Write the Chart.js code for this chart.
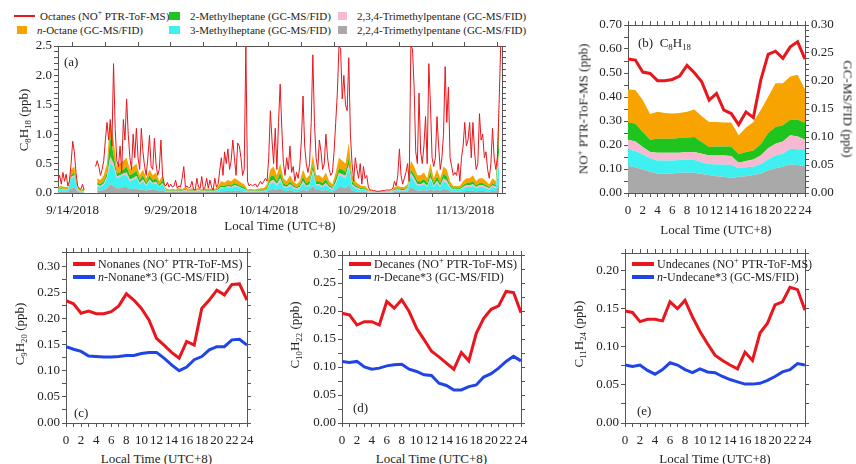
<!DOCTYPE html>
<html>
<head>
<meta charset="utf-8">
<script src="https://cdn.jsdelivr.net/npm/chart.js@4/dist/chart.umd.min.js"></script>
<style>
  body { margin: 0; width: 856px; height: 464px; position: relative; overflow: hidden; background: #fff;
         font-family: "Liberation Serif", "DejaVu Serif", serif; color: #222; }
  canvas { position: absolute; }
  .lbl { position: absolute; white-space: nowrap; font-size: 13px; line-height: 1; transform: translate(-50%, -50%); }
  .lbl.left { transform: translate(0, -50%); }
  .lbl.rotL { transform: translate(-50%, -50%) rotate(-90deg); }
  .lbl.rotR { transform: translate(-50%, -50%) rotate(90deg); }
  sub, sup { font-size: 0.68em; line-height: 0; }
  .sw { position: absolute; }
</style>
</head>
<body>
<script>
// ---------- panel (a): time series, 9/11/2018 18:00 onwards ----------
// x axis counts days from 2018-09-01 00:00
const dateTickDays = [13, 28, 43, 58, 73]
const dateTickLabels = ["9/14/2018", "9/29/2018", "10/14/2018", "10/29/2018", "11/13/2018"]
const tsStartDay = 10.75
const ptrStepDays = 0.25   // one reading every 6 h
const gcStepDays = 0.5     // one reading every 12 h

// Octanes, NO+ PTR-ToF-MS (ppb)
const octanesPTR = [
  0.22,0.3,0.15,0.35,0.2,0.32,0.12,0.2,0.5,0.88,
  0.7,0.35,0.12,0.08,0.06,0.15,0.05,null,null,null,
  null,null,null,0.45,0.55,0.45,0.3,0.4,0.55,0.9,
  1.2,0.9,1.25,0.8,2.2,1.1,0.55,0.45,0.8,0.35,
  1.25,0.9,1.6,1.0,0.6,0.4,1.0,0.6,1.1,0.6,
  0.4,1.1,0.7,0.45,0.3,0.6,0.98,0.45,0.4,0.93,
  0.5,0.3,0.4,0.9,0.3,0.15,0.12,0.18,0.1,0.15,
  0.1,0.12,0.22,0.08,0.12,0.1,0.25,0.45,0.1,0.12,
  0.08,0.1,0.2,0.06,0.05,0.25,0.1,0.08,0.28,0.06,
  0.1,0.25,0.08,0.22,0.1,0.05,0.25,0.1,0.15,0.38,
  0.6,0.3,0.7,0.5,0.75,0.4,0.55,0.9,0.6,0.3,
  0.85,0.8,0.6,0.3,0.4,2.5,0.2,0.12,0.15,0.12,
  0.14,0.15,0.1,0.15,0.2,0.15,0.2,0.25,0.2,0.6,
  1.4,0.9,0.5,1.1,0.4,1.2,1.85,1.1,0.5,0.3,
  0.6,0.4,0.8,0.35,0.45,0.2,0.35,0.25,0.45,0.9,
  1.65,0.8,0.5,0.35,0.5,1.2,2.35,1.2,0.6,0.4,
  0.9,0.7,0.4,0.5,1.0,0.6,0.4,0.3,0.35,0.7,
  1.2,1.7,2.5,2.45,1.6,2.0,1.5,1.4,2.3,1.0,
  0.5,0.2,0.6,0.4,0.25,0.5,0.15,0.45,0.25,0.3,
  0.1,0.05,0.05,0.04,0.04,0.03,0.03,0.03,0.04,0.04,
  0.04,0.05,0.05,0.05,0.06,0.08,0.2,0.12,0.3,0.75,
  0.3,0.15,0.25,0.35,0.5,0.2,2.5,2.45,1.8,0.7,
  0.5,1.7,0.7,0.5,0.8,1.3,0.5,2.2,1.5,0.6,
  0.45,0.6,1.3,0.8,0.4,0.6,1.0,2.15,1.2,1.8,
  0.6,0.45,0.3,0.35,0.3,0.5,0.2,0.6,0.8,1.2,
  0.8,0.9,1.2,0.6,1.2,0.7,0.4,0.5,1.35,0.9,
  1.0,0.6,0.7,0.4,0.25,0.5,1.1,0.6,0.4,0.6,
  1.5,2.5
]

// GC-MS/FID layers, read as the top edge of each stacked band (ppb)
const tsOctaneTop = [
  0.1,0.12,0.1,0.1,0.4,0.45,0.1,0.05,0.08,null,
  null,null,0.25,0.22,0.3,0.5,1.25,0.9,0.45,0.5,
  0.55,0.6,0.4,0.45,0.5,0.3,0.4,0.25,0.4,0.3,
  0.35,0.2,0.3,0.08,0.06,0.07,0.06,0.08,0.07,0.1,
  0.06,0.08,0.06,0.09,0.06,0.08,0.07,0.08,0.07,0.12,
  0.2,0.18,0.22,0.2,0.25,0.22,0.18,0.15,0.06,0.07,
  0.06,0.07,0.08,0.08,0.15,0.4,0.45,0.3,0.5,0.25,
  0.2,0.3,0.2,0.15,0.2,0.4,0.25,0.3,0.65,0.3,
  0.3,0.25,0.35,0.2,0.15,0.35,0.6,0.55,0.5,0.85,
  0.3,0.2,0.15,0.12,0.12,0.06,0.04,0.03,0.03,0.03,
  0.03,0.04,0.04,0.1,0.12,0.1,0.1,0.15,0.55,0.45,
  0.3,0.3,0.35,0.25,0.5,0.25,0.4,0.25,0.45,0.4,
  0.2,0.12,0.12,0.12,0.2,0.25,0.25,0.3,0.2,0.25,
  0.25,0.2,0.15,0.25,0.2,1.5
]
const ts2MHTop = [
  0.07,0.08,0.07,0.07,0.3,0.35,0.07,0.03,0.05,null,
  null,null,0.18,0.15,0.2,0.35,0.95,0.65,0.33,0.35,
  0.4,0.45,0.3,0.33,0.38,0.22,0.3,0.18,0.3,0.22,
  0.25,0.14,0.22,0.05,0.04,0.05,0.04,0.05,0.05,0.07,
  0.04,0.05,0.04,0.06,0.04,0.05,0.05,0.05,0.05,0.08,
  0.13,0.12,0.15,0.13,0.17,0.15,0.12,0.1,0.04,0.05,
  0.04,0.05,0.05,0.05,0.1,0.28,0.3,0.2,0.35,0.17,
  0.13,0.2,0.13,0.1,0.13,0.28,0.17,0.2,0.48,0.2,
  0.2,0.17,0.24,0.13,0.1,0.25,0.42,0.4,0.36,0.6,
  0.2,0.13,0.1,0.08,0.08,0.04,0.03,0.02,0.02,0.02,
  0.02,0.03,0.03,0.07,0.08,0.07,0.07,0.1,0.4,0.32,
  0.2,0.2,0.24,0.17,0.36,0.17,0.28,0.17,0.33,0.28,
  0.13,0.08,0.08,0.08,0.13,0.17,0.17,0.2,0.13,0.17,
  0.17,0.13,0.1,0.17,0.13,1.0
]
const ts234Top = [
  0.06,0.07,0.06,0.06,0.27,0.3,0.06,0.025,0.04,null,
  null,null,0.14,0.12,0.16,0.28,0.62,0.5,0.28,0.3,
  0.33,0.35,0.23,0.25,0.29,0.17,0.23,0.14,0.23,0.17,
  0.19,0.11,0.17,0.04,0.035,0.04,0.035,0.04,0.04,0.05,
  0.035,0.04,0.035,0.05,0.035,0.04,0.04,0.04,0.04,0.06,
  0.1,0.09,0.12,0.1,0.13,0.12,0.09,0.07,0.035,0.04,
  0.035,0.04,0.04,0.04,0.07,0.2,0.22,0.15,0.25,0.12,
  0.1,0.15,0.1,0.08,0.1,0.2,0.12,0.15,0.39,0.15,
  0.15,0.12,0.17,0.1,0.08,0.18,0.34,0.32,0.29,0.48,
  0.15,0.1,0.08,0.06,0.06,0.03,0.025,0.015,0.015,0.015,
  0.015,0.025,0.025,0.05,0.06,0.05,0.05,0.08,0.34,0.25,
  0.15,0.15,0.18,0.12,0.27,0.12,0.21,0.12,0.25,0.21,
  0.1,0.06,0.06,0.06,0.1,0.13,0.13,0.15,0.1,0.13,
  0.13,0.1,0.08,0.13,0.1,0.7
]
const ts3MHTop = [
  0.05,0.06,0.05,0.05,0.25,0.28,0.05,0.02,0.03,null,
  null,null,0.12,0.1,0.14,0.25,0.5,0.45,0.25,0.27,
  0.3,0.3,0.2,0.22,0.26,0.15,0.2,0.12,0.2,0.15,
  0.16,0.1,0.15,0.03,0.03,0.03,0.03,0.03,0.03,0.04,
  0.03,0.03,0.03,0.04,0.03,0.03,0.03,0.03,0.03,0.05,
  0.08,0.08,0.1,0.08,0.11,0.1,0.08,0.06,0.03,0.03,
  0.03,0.03,0.03,0.03,0.06,0.16,0.18,0.12,0.2,0.1,
  0.08,0.12,0.08,0.06,0.08,0.16,0.1,0.12,0.35,0.12,
  0.12,0.1,0.14,0.08,0.06,0.15,0.3,0.28,0.25,0.42,
  0.12,0.08,0.06,0.05,0.05,0.02,0.02,0.01,0.01,0.01,
  0.01,0.02,0.02,0.04,0.05,0.04,0.04,0.06,0.3,0.2,
  0.12,0.12,0.15,0.1,0.22,0.1,0.17,0.1,0.2,0.17,
  0.08,0.05,0.05,0.05,0.08,0.1,0.1,0.12,0.08,0.1,
  0.1,0.08,0.06,0.1,0.08,0.5
]
const ts224Top = [
  0.02,0.03,0.02,0.02,0.08,0.1,0.02,0.01,0.01,null,
  null,null,0.05,0.04,0.05,0.08,0.15,0.12,0.08,0.08,
  0.1,0.1,0.07,0.07,0.08,0.05,0.06,0.04,0.06,0.05,
  0.05,0.03,0.05,0.015,0.015,0.015,0.015,0.015,0.015,0.02,
  0.015,0.015,0.015,0.02,0.015,0.015,0.015,0.015,0.015,0.02,
  0.03,0.03,0.04,0.03,0.04,0.04,0.03,0.025,0.015,0.015,
  0.015,0.015,0.015,0.015,0.025,0.06,0.07,0.05,0.08,0.04,
  0.03,0.05,0.03,0.025,0.03,0.06,0.04,0.05,0.12,0.05,
  0.05,0.04,0.05,0.03,0.025,0.05,0.1,0.1,0.08,0.14,
  0.04,0.03,0.025,0.02,0.02,0.01,0.01,0.01,0.01,0.01,
  0.01,0.01,0.01,0.015,0.02,0.015,0.015,0.02,0.1,0.07,
  0.04,0.04,0.05,0.035,0.07,0.035,0.06,0.035,0.07,0.06,
  0.03,0.02,0.02,0.02,0.03,0.035,0.035,0.04,0.03,0.035,
  0.035,0.03,0.025,0.035,0.03,0.15
]

// ---------- diurnal panels (b)-(e) ----------
const hours = [0,1,2,3,4,5,6,7,8,9,10,11,12,13,14,15,16,17,18,19,20,21,22,23,24]

// (b) C8H18
const octanesDiurnal = [0.558,0.554,0.504,0.498,0.468,0.468,0.473,0.487,0.532,0.501,0.463,0.387,0.415,0.345,0.331,0.285,0.338,0.314,0.470,0.578,0.591,0.561,0.609,0.630,0.558]
const dOctaneTop = [0.185,0.184,0.166,0.141,0.145,0.143,0.142,0.143,0.145,0.149,0.137,0.127,0.127,0.126,0.126,0.103,0.117,0.127,0.148,0.172,0.196,0.196,0.208,0.211,0.185]
const d2MHTop = [0.126,0.124,0.109,0.095,0.097,0.097,0.097,0.098,0.099,0.100,0.091,0.082,0.083,0.083,0.083,0.069,0.073,0.076,0.087,0.107,0.118,0.121,0.131,0.131,0.126]
const d234Top = [0.095,0.092,0.082,0.073,0.072,0.072,0.072,0.072,0.073,0.073,0.070,0.067,0.067,0.067,0.066,0.054,0.057,0.060,0.067,0.080,0.088,0.092,0.103,0.101,0.095]
const d3MHTop = [0.078,0.075,0.069,0.062,0.058,0.058,0.058,0.059,0.060,0.059,0.055,0.052,0.051,0.051,0.050,0.044,0.046,0.047,0.052,0.060,0.067,0.070,0.079,0.078,0.078]
const d224Top = [0.048,0.046,0.042,0.038,0.035,0.035,0.035,0.036,0.036,0.036,0.034,0.032,0.030,0.029,0.027,0.029,0.030,0.032,0.035,0.040,0.044,0.047,0.051,0.050,0.048]

// (c) C9H20
const nonanes = [0.234,0.228,0.210,0.214,0.209,0.209,0.213,0.224,0.247,0.235,0.219,0.197,0.162,0.149,0.135,0.124,0.156,0.149,0.219,0.235,0.254,0.245,0.265,0.266,0.235]
const nNonane3 = [0.146,0.141,0.137,0.128,0.127,0.126,0.126,0.127,0.129,0.129,0.133,0.135,0.135,0.124,0.111,0.100,0.107,0.121,0.127,0.140,0.146,0.146,0.159,0.160,0.149]
// (d) C10H22
const decanes = [0.196,0.193,0.175,0.181,0.181,0.175,0.217,0.205,0.220,0.199,0.169,0.149,0.128,0.118,0.107,0.096,0.126,0.111,0.160,0.187,0.203,0.209,0.235,0.233,0.197]
const nDecane3 = [0.110,0.108,0.110,0.100,0.096,0.098,0.102,0.104,0.105,0.096,0.092,0.086,0.085,0.071,0.067,0.059,0.059,0.065,0.068,0.082,0.088,0.098,0.110,0.119,0.111]
// (e) C11H24
const undecanes = [0.147,0.145,0.133,0.136,0.136,0.134,0.159,0.150,0.161,0.139,0.120,0.104,0.089,0.082,0.076,0.071,0.093,0.082,0.118,0.131,0.155,0.159,0.178,0.175,0.148]
const nUndecane3 = [0.076,0.074,0.076,0.069,0.064,0.070,0.079,0.076,0.070,0.066,0.071,0.067,0.066,0.061,0.057,0.054,0.051,0.051,0.052,0.056,0.061,0.067,0.070,0.078,0.076]

// ---------- styling ----------
const FONT = { family: '"Liberation Serif", "DejaVu Serif", serif', size: 13 }
const INK = "#222"
const FRAME = "#555"
const RED = "#e8161d"
const BLUE = "#1f45e8"
const COL = { octane: "#f7a400", mh2: "#1fc41f", tmp234: "#f7b8d2", mh3: "#3ff0f0", tmp224: "#a9a9a9" }

const onStep = (v, every) => Math.abs(v / every - Math.round(v / every)) < 1e-6

function axis(position, min, max, step, every, digits) {
  return {
    type: "linear", position, min, max,
    border: { color: FRAME, width: 1 },
    grid: { drawOnChartArea: false, drawTicks: true, tickLength: 4, tickColor: FRAME },
    ticks: {
      stepSize: step, autoSkip: false, maxRotation: 0, minRotation: 0,
      color: INK, font: FONT, padding: 2,
      callback: v => digits != null && onStep(v, every) ? Number(v).toFixed(digits) : ""
    }
  }
}

function dateAxis(position, labelled) {
  const a = axis(position, tsStartDay, 78.7, 5, 15, null)
  a.afterBuildTicks = s => {
    const t = []
    for (let d = dateTickDays[0]; d <= s.max; d += 5) t.push({ value: d })
    s.ticks = t
  }
  a.ticks.padding = 6
  a.ticks.callback = v => {
    const k = dateTickDays.indexOf(v)
    return labelled && k >= 0 ? dateTickLabels[k] : ""
  }
  return a
}

function hourAxis(position, labelled) {
  const a = axis(position, 0, 24, 1, 2, labelled ? 0 : null)
  a.ticks.padding = 6
  return a
}

// box = [left, top, width, height] of canvas, plot = [x0, y0, x1, y1] of wanted chart area
function makeChart(box, plot, config) {
  const [bl, bt, bw, bh] = box
  const canvas = document.createElement("canvas")
  canvas.width = bw
  canvas.height = bh
  canvas.style.left = bl + "px"
  canvas.style.top = bt + "px"
  document.body.appendChild(canvas)

  const sizes = { left: plot[0] - bl, top: plot[1] - bt, right: bl + bw - plot[2], bottom: bt + bh - plot[3] }
  for (const s of Object.values(config.options.scales)) {
    const pos = s.position
    s.afterFit = scale => {
      if (pos == "left" || pos == "right") scale.width = sizes[pos]
      else scale.height = sizes[pos]
      scale.paddingTop = scale.paddingBottom = scale.paddingLeft = scale.paddingRight = 0
    }
  }
  Object.assign(config.options, {
    responsive: false, animation: false, devicePixelRatio: 1,
    layout: { padding: 0 },
    elements: { point: { radius: 0 }, line: { tension: 0 } },
    plugins: { legend: { display: false }, tooltip: { enabled: false } }
  })
  return new Chart(canvas, config)
}

function text(x, y, html, cls, size) {
  const el = document.createElement("div")
  el.className = "lbl " + (cls || "")
  el.innerHTML = html
  el.style.left = x + "px"
  el.style.top = y + "px"
  if (size) el.style.fontSize = size + "px"
  document.body.appendChild(el)
}

function swatch(x, y, w, h, color) {
  const el = document.createElement("div")
  el.className = "sw"
  Object.assign(el.style, { left: x + "px", top: (y - h / 2) + "px", width: w + "px", height: h + "px", background: color })
  document.body.appendChild(el)
}

const area = (label, data, color, fill, yAxisID, xs) => ({
  label, data: data.map((y, i) => ({ x: xs(i), y })), yAxisID,
  borderWidth: 0, borderColor: color, backgroundColor: color, fill, spanGaps: false
})

// ---------- (a) ----------
{
  const ptrX = i => tsStartDay + i * ptrStepDays
  const gcX = i => tsStartDay + i * gcStepDays
  makeChart([8, 40, 505, 178], [58, 46, 502, 193], {
    type: "line",
    data: {
      datasets: [
        { label: "Octanes (NO+ PTR-ToF-MS)", data: octanesPTR.map((y, i) => ({ x: ptrX(i), y })),
          borderColor: RED, borderWidth: 1, fill: false, spanGaps: false },
        area("2,2,4-Trimethylpentane (GC-MS/FID)", ts224Top, COL.tmp224, "origin", "y", gcX),
        area("3-Methylheptane (GC-MS/FID)", ts3MHTop, COL.mh3, 1, "y", gcX),
        area("2,3,4-Trimethylpentane (GC-MS/FID)", ts234Top, COL.tmp234, 2, "y", gcX),
        area("2-Methylheptane (GC-MS/FID)", ts2MHTop, COL.mh2, 3, "y", gcX),
        area("n-Octane (GC-MS/FID)", tsOctaneTop, COL.octane, 4, "y", gcX)
      ]
    },
    options: {
      scales: {
        x: dateAxis("bottom", true),
        xTop: dateAxis("top", false),
        y: axis("left", 0, 2.5, 0.1, 0.5, 1),
        yRight: axis("right", 0, 2.5, 0.1, 0.5, null)
      }
    }
  })

  // legend above panel (a)
  swatch(14, 16, 21, 1.5, RED)
  text(40, 16, "Octanes (NO<sup>+</sup> PTR-ToF-MS)", "left", 11)
  swatch(17, 30, 10, 8, COL.octane)
  text(37, 30, "<i>n</i>-Octane (GC-MS/FID)", "left", 11)
  swatch(169, 16, 11, 8, COL.mh2)
  text(190, 16, "2-Methylheptane (GC-MS/FID)", "left", 11)
  swatch(169, 30, 11, 8, COL.mh3)
  text(190, 30, "3-Methylheptane (GC-MS/FID)", "left", 11)
  swatch(338, 16, 9, 8, COL.tmp234)
  text(357, 16, "2,3,4-Trimethylpentane (GC-MS/FID)", "left", 11)
  swatch(338, 30, 9, 8, COL.tmp224)
  text(357, 30, "2,2,4-Trimethylpentane (GC-MS/FID)", "left", 11)

  text(64, 61, "(a)", "left")
  text(23, 120, "C<sub>8</sub>H<sub>18</sub> (ppb)", "rotL")
  text(280, 225, "Local Time (UTC+8)")
}

// ---------- (b) ----------
{
  const hx = i => hours[i]
  makeChart([588, 18, 260, 206], [628, 25, 805, 193], {
    type: "line",
    data: {
      datasets: [
        { label: "Octanes (NO+ PTR-ToF-MS)", data: octanesDiurnal.map((y, i) => ({ x: hx(i), y })),
          borderColor: RED, borderWidth: 3, fill: false, yAxisID: "y" },
        area("2,2,4-Trimethylpentane", d224Top, COL.tmp224, "origin", "yGC", hx),
        area("3-Methylheptane", d3MHTop, COL.mh3, 1, "yGC", hx),
        area("2,3,4-Trimethylpentane", d234Top, COL.tmp234, 2, "yGC", hx),
        area("2-Methylheptane", d2MHTop, COL.mh2, 3, "yGC", hx),
        area("n-Octane", dOctaneTop, COL.octane, 4, "yGC", hx)
      ]
    },
    options: {
      scales: {
        x: hourAxis("bottom", true),
        xTop: hourAxis("top", false),
        y: axis("left", 0, 0.7, 0.05, 0.1, 2),
        yGC: axis("right", 0, 0.3, 0.01, 0.05, 2)
      }
    }
  })
  text(638, 42, "(b)&nbsp; C<sub>8</sub>H<sub>18</sub>", "left")
  text(583, 109, "NO<sup>+</sup> PTR-ToF-MS (ppb)", "rotL")
  text(848, 109, "GC-MS/FID (ppb)", "rotR")
  text(716, 229, "Local Time (UTC+8)")
}

// ---------- (c), (d), (e) ----------
function diurnalPanel(box, plot, yMax, ptr, gc, tag, tagPos, yTitle, yTitleX, names) {
  const hx = i => hours[i]
  makeChart(box, plot, {
    type: "line",
    data: {
      datasets: [
        { label: names[0], data: ptr.map((y, i) => ({ x: hx(i), y })), borderColor: RED, borderWidth: 3, fill: false },
        { label: names[1], data: gc.map((y, i) => ({ x: hx(i), y })), borderColor: BLUE, borderWidth: 3, fill: false }
      ]
    },
    options: {
      scales: {
        x: hourAxis("bottom", true),
        xTop: hourAxis("top", false),
        y: axis("left", 0, yMax, 0.025, 0.05, 2),
        yRight: axis("right", 0, yMax, 0.025, 0.05, null)
      }
    }
  })
  const lx = plot[0] + 7
  swatch(lx, 264, 22, 4, RED)
  text(lx + 25, 264, names[2], "left", 12)
  swatch(lx, 277, 22, 4, BLUE)
  text(lx + 25, 277, names[3], "left", 12)
  text(tagPos[0], tagPos[1], tag, "left")
  text(yTitleX, (plot[1] + plot[3]) / 2 - 4, yTitle, "rotL")
  text((plot[0] + plot[2]) / 2, 458, "Local Time (UTC+8)")
}

diurnalPanel([22, 244, 238, 206], [66, 252, 247, 423], 0.327, nonanes, nNonane3, "(c)", [74, 412],
  "C<sub>9</sub>H<sub>20</sub> (ppb)", 19,
  ["Nonanes (NO+ PTR-ToF-MS)", "n-Nonane*3 (GC-MS/FID)",
   "Nonanes (NO<sup>+</sup> PTR-ToF-MS)", "<i>n</i>-Nonane*3 (GC-MS/FID)"])

diurnalPanel([298, 244, 237, 206], [342, 255, 521, 423], 0.30, decanes, nDecane3, "(d)", [353, 407],
  "C<sub>10</sub>H<sub>22</sub> (ppb)", 294,
  ["Decanes (NO+ PTR-ToF-MS)", "n-Decane*3 (GC-MS/FID)",
   "Decanes (NO<sup>+</sup> PTR-ToF-MS)", "<i>n</i>-Decane*3 (GC-MS/FID)"])

diurnalPanel([581, 244, 238, 206], [625, 253, 805, 423], 0.223, undecanes, nUndecane3, "(e)", [637, 410],
  "C<sub>11</sub>H<sub>24</sub> (ppb)", 578,
  ["Undecanes (NO+ PTR-ToF-MS)", "n-Undecane*3 (GC-MS/FID)",
   "Undecanes (NO<sup>+</sup> PTR-ToF-MS)", "<i>n</i>-Undecane*3 (GC-MS/FID)"])
</script>
</body>
</html>
